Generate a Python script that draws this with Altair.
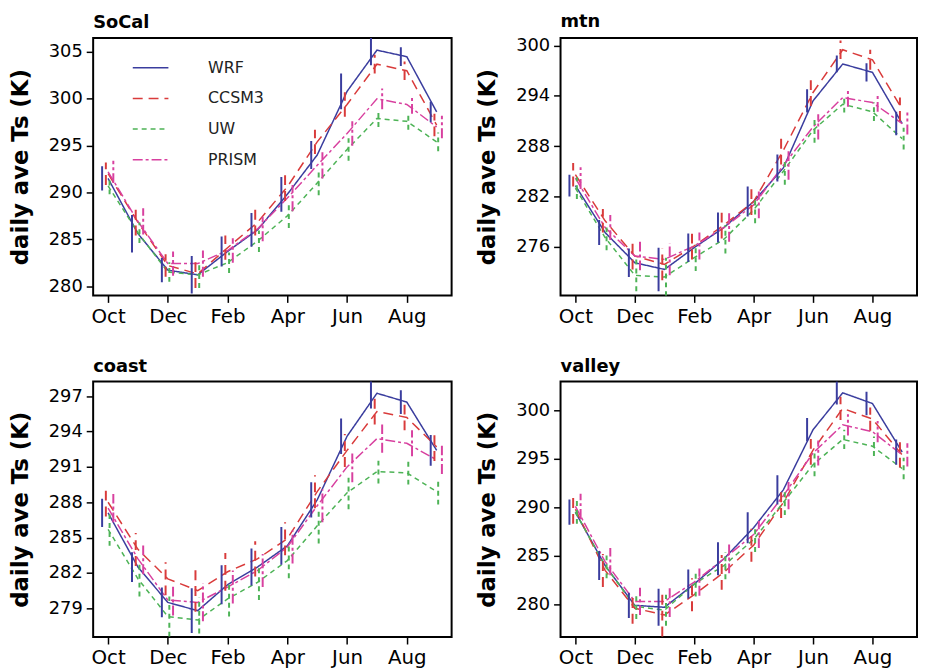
import json
import altair as alt
import pandas as pd

months = ["Oct", "Nov", "Dec", "Jan", "Feb", "Mar", "Apr", "May", "Jun", "Jul", "Aug", "Sep"]
series = ["WRF", "CCSM3", "UW", "PRISM"]
regions = ["SoCal", "mtn", "coast", "valley"]
colors = ["#3A3D9E", "#D93B3B", "#4DB356", "#D8409F"]
dashes = [[1, 0], [10, 6], [5, 4], [10, 3, 3, 3]]
bar_offsets = [-0.2, -0.075, 0.05, 0.175]

# ---- SoCal ----
socal_wrf = [291.5, 285.6, 281.7, 281.2, 283.7, 286.0, 289.8, 294.0, 300.8, 305.2, 304.5, 298.6]
socal_ccsm3 = [292.0, 286.8, 282.2, 281.3, 284.1, 286.8, 290.6, 295.4, 299.4, 303.7, 303.0, 297.2]
socal_uw = [290.7, 285.7, 281.5, 281.2, 282.5, 284.8, 287.5, 291.0, 294.6, 297.9, 297.6, 295.4]
socal_prism = [292.2, 286.9, 282.4, 282.4, 283.8, 286.1, 289.4, 292.9, 296.3, 300.0, 299.4, 297.0]
socal_wrf_err = [1.3, 2.0, 1.3, 2.0, 1.6, 1.8, 1.85, 1.5, 1.9, 1.6, 1.0, 1.1]
socal_ccsm3_err = [1.2, 1.4, 1.2, 1.5, 1.3, 1.4, 1.5, 1.3, 1.3, 1.0, 1.0, 1.2]
socal_uw_err = [0.9, 1.1, 1.05, 1.4, 1.1, 1.15, 1.3, 1.3, 1.2, 0.9, 0.9, 1.0]
socal_prism_err = [1.2, 1.4, 1.3, 1.4, 1.3, 1.3, 1.4, 1.4, 1.3, 1.1, 1.0, 1.2]

# ---- mtn ----
mtn_wrf = [283.3, 277.7, 274.1, 273.3, 275.9, 278.3, 281.4, 285.4, 293.4, 297.8, 296.8, 290.7]
mtn_ccsm3 = [284.6, 279.1, 274.9, 273.9, 276.1, 278.6, 281.4, 287.5, 294.4, 299.5, 298.3, 292.4]
mtn_uw = [283.0, 277.1, 272.6, 272.4, 274.7, 276.9, 280.4, 285.0, 289.9, 293.0, 292.1, 288.9]
mtn_prism = [284.2, 278.3, 274.9, 274.5, 276.1, 278.3, 281.0, 285.7, 290.3, 293.8, 293.2, 290.7]
mtn_wrf_err = [1.3, 1.5, 1.7, 2.6, 1.7, 1.8, 1.8, 1.6, 1.4, 1.0, 1.1, 1.4]
mtn_ccsm3_err = [1.4, 1.4, 1.6, 1.9, 1.6, 1.6, 1.6, 1.7, 1.6, 1.1, 1.2, 1.4]
mtn_uw_err = [1.3, 1.5, 1.9, 2.3, 1.6, 1.7, 1.6, 1.6, 1.5, 1.0, 1.1, 1.3]
mtn_prism_err = [1.3, 1.5, 1.7, 1.9, 1.6, 1.7, 1.6, 1.7, 1.5, 1.1, 1.1, 1.3]

# ---- coast ----
coast_wrf = [287.1, 282.5, 279.5, 278.8, 281.0, 282.5, 284.3, 288.2, 293.6, 297.25, 296.5, 292.4]
coast_ccsm3 = [288.0, 284.0, 281.5, 280.5, 282.1, 283.2, 284.9, 288.9, 292.4, 295.7, 295.2, 292.7]
coast_uw = [285.7, 281.5, 278.3, 278.0, 279.8, 281.2, 283.05, 286.0, 288.8, 290.6, 290.5, 288.9]
coast_prism = [287.5, 283.2, 279.7, 279.5, 280.8, 282.2, 284.2, 287.7, 291.0, 293.4, 293.0, 291.6]
coast_wrf_err = [1.2, 1.26, 1.26, 1.9, 1.65, 1.57, 1.6, 1.5, 1.5, 1.3, 1.0, 1.3]
coast_ccsm3_err = [1.2, 1.4, 1.4, 1.8, 1.6, 1.5, 1.4, 1.4, 1.4, 1.1, 1.1, 1.2]
coast_uw_err = [1.4, 1.5, 1.7, 1.9, 1.5, 1.5, 1.5, 1.5, 1.4, 1.0, 1.0, 1.1]
coast_prism_err = [1.2, 1.3, 1.3, 1.6, 1.4, 1.4, 1.4, 1.4, 1.3, 1.2, 1.1, 1.2]

# ---- valley ----
valley_wrf = [289.5, 284.0, 279.9, 279.7, 282.1, 284.7, 287.9, 291.8, 298.0, 301.8, 300.7, 295.7]
valley_ccsm3 = [289.8, 283.5, 279.6, 278.9, 281.0, 283.3, 286.1, 290.5, 295.9, 300.2, 299.1, 295.4]
valley_uw = [289.5, 284.0, 279.8, 279.4, 282.1, 284.0, 286.7, 290.5, 294.4, 297.0, 296.3, 294.0]
valley_prism = [290.1, 284.4, 280.3, 280.3, 282.3, 284.7, 287.2, 291.2, 295.6, 298.5, 297.8, 295.4]
valley_wrf_err = [1.3, 1.5, 1.3, 1.9, 1.5, 1.7, 1.6, 1.5, 1.2, 1.2, 1.2, 1.3]
valley_ccsm3_err = [1.5, 1.7, 1.6, 2.2, 1.7, 1.8, 1.7, 1.6, 1.5, 1.2, 1.2, 1.3]
valley_uw_err = [1.2, 1.3, 1.3, 1.6, 1.3, 1.4, 1.3, 1.3, 1.2, 1.0, 1.0, 1.1]
valley_prism_err = [1.3, 1.4, 1.4, 1.6, 1.4, 1.5, 1.4, 1.4, 1.3, 1.1, 1.1, 1.2]

y_domains = {
    "SoCal": [279.0, 306.5],
    "mtn": [270.2, 300.9],
    "coast": [276.56, 298.24],
    "valley": [276.63, 302.96],
}
y_ticks = {
    "SoCal": [280, 285, 290, 295, 300, 305],
    "mtn": [276, 282, 288, 294, 300],
    "coast": [279, 282, 285, 288, 291, 294, 297],
    "valley": [280, 285, 290, 295, 300],
}

values = {
    "SoCal": [socal_wrf, socal_ccsm3, socal_uw, socal_prism],
    "mtn": [mtn_wrf, mtn_ccsm3, mtn_uw, mtn_prism],
    "coast": [coast_wrf, coast_ccsm3, coast_uw, coast_prism],
    "valley": [valley_wrf, valley_ccsm3, valley_uw, valley_prism],
}
errors = {
    "SoCal": [socal_wrf_err, socal_ccsm3_err, socal_uw_err, socal_prism_err],
    "mtn": [mtn_wrf_err, mtn_ccsm3_err, mtn_uw_err, mtn_prism_err],
    "coast": [coast_wrf_err, coast_ccsm3_err, coast_uw_err, coast_prism_err],
    "valley": [valley_wrf_err, valley_ccsm3_err, valley_uw_err, valley_prism_err],
}

rows = []
for r in regions:
    for si, s in enumerate(series):
        for m in range(12):
            rows.append({
                "region": r, "series": s, "m": m,
                "value": values[r][si][m], "err": errors[r][si][m],
                "off": bar_offsets[si],
            })
df = pd.DataFrame(rows)

FONT = "DejaVu Sans"
month_expr = json.dumps(months) + "[datum.value]"


def panel(region, width, height, show_legend):
    base = alt.Chart(df).transform_filter(alt.datum.region == region)
    if show_legend:
        leg = alt.Legend(
            title=None, orient="none", legendX=39, legendY=11,
            symbolType="stroke", symbolSize=1296, symbolStrokeWidth=1.5,
            labelOffset=39, rowPadding=4, padding=0,
            labelFont=FONT, labelFontSize=16, labelColor="#222",
        )
    else:
        leg = None
    color = alt.Color("series:N", scale=alt.Scale(domain=series, range=colors), legend=leg)
    dash = alt.StrokeDash("series:N", scale=alt.Scale(domain=series, range=dashes), legend=leg)
    xscale = alt.Scale(domain=[-0.5, 11.5], nice=False, zero=False)
    xaxis = alt.Axis(values=[0, 2, 4, 6, 8, 10], labelExpr=month_expr, title=None,
                     grid=False, domain=False, tickSize=7, tickWidth=1.5, tickColor="black",
                     labelPadding=4, labelFont=FONT, labelFontSize=20, labelColor="black")
    yscale = alt.Scale(domain=y_domains[region], nice=False, zero=False)
    yaxis = alt.Axis(values=y_ticks[region], title="daily ave Ts (K)", grid=False, domain=False,
                     tickSize=7, tickWidth=1.5, tickColor="black", labelPadding=4,
                     labelFont=FONT, labelFontSize=18, labelColor="black",
                     titleFont=FONT, titleFontSize=23, titleFontWeight="bold",
                     titleColor="black", titlePadding=16)
    lines = base.mark_line(strokeWidth=1.5, clip=True).encode(
        x=alt.X("m:Q", scale=xscale, axis=xaxis),
        y=alt.Y("value:Q", scale=yscale, axis=yaxis),
        color=color, strokeDash=dash,
    )
    bars = base.transform_calculate(
        xb="datum.m + datum.off",
        lo="datum.value - datum.err",
        hi="datum.value + datum.err",
    ).mark_rule(strokeWidth=2, clip=True).encode(
        x=alt.X("xb:Q", scale=xscale, axis=xaxis),
        y=alt.Y("lo:Q", scale=yscale, axis=yaxis),
        y2="hi:Q",
        color=color, strokeDash=dash,
    )
    return alt.layer(lines, bars).properties(
        width=width, height=height,
        title=alt.TitleParams(region, anchor="start", frame="group", font=FONT,
                              fontSize=18, fontWeight="bold", color="black", offset=6),
    )


top = alt.hconcat(
    panel("SoCal", 362, 260, True), panel("mtn", 360, 260, False), spacing=23
).resolve_scale(x="independent", y="independent", color="independent", strokeDash="independent")
bottom = alt.hconcat(
    panel("coast", 362, 258, False), panel("valley", 360, 258, False), spacing=23
).resolve_scale(x="independent", y="independent", color="independent", strokeDash="independent")

chart = alt.vconcat(top, bottom, spacing=30).resolve_scale(
    x="independent", y="independent", color="independent", strokeDash="independent"
).properties(padding=0, background="white").configure_view(stroke="black", strokeWidth=2)

chart.save("out.html", embed_options={"renderer": "svg", "actions": False})
